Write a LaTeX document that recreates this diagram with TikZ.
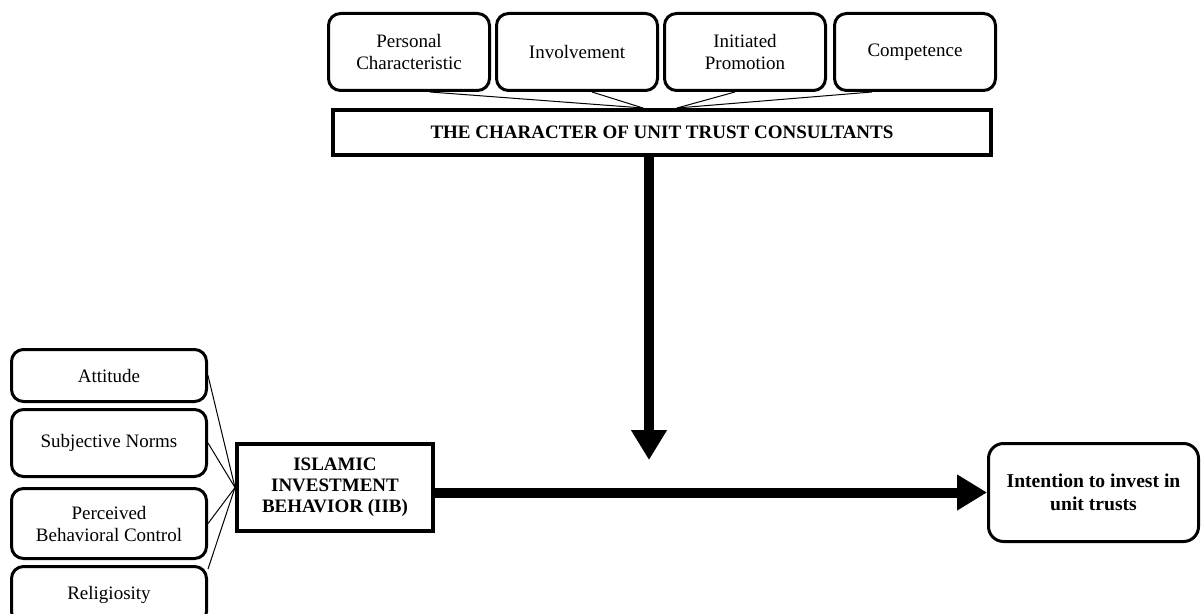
\documentclass[tikz,border=0pt]{standalone}
\usepackage{fontspec}
\setmainfont{Liberation Serif}
\usetikzlibrary{shapes.misc, arrows.meta, calc, positioning}

\begin{document}
\begin{tikzpicture}[x=0.5pt, y=-0.5pt, node distance=84pt, every node/.style={font=\fontsize{9.5}{11}\selectfont}]
%
% Coordinates are in pixels of the original figure, y pointing down.
%
\tikzstyle{factor} = [rectangle, rounded corners=6pt, minimum width=80.5pt, minimum height=38.5pt, text centered, draw=black, line width=1.5pt, align=center, inner sep=2pt]
\tikzstyle{construct} = [rectangle, draw=black, line width=2pt, text centered, align=center, inner sep=2pt, font=\bfseries\fontsize{9.5}{10.5}\selectfont]
\tikzstyle{outcome} = [factor, rounded corners=7.5pt, minimum width=105pt, minimum height=49pt, font=\bfseries\fontsize{9.8}{11.5}\selectfont]
\tikzstyle{link} = [line width=0.5pt]
\tikzstyle{arrow} = [line width=5pt, -{Triangle[length=15pt,width=17pt]}]
\useasboundingbox (0,0) rectangle (1202,614);
% Nodes
\node (personal) [factor] at (409,52) {Personal\\Characteristic};
\node (involve) [factor, right of=personal] {Involvement};
\node (promo) [factor, right of=involve] {Initiated\\Promotion};
\node (compet) [factor, right of=promo, xshift=1pt] {Competence};
\node (title) [construct, minimum width=329pt, minimum height=22.5pt] at (662,132.5) {THE CHARACTER OF UNIT TRUST CONSULTANTS};
\node (attitude) [factor, minimum width=97.5pt, minimum height=26pt] at (109,375.5) {Attitude};
\node (norms) [factor, minimum width=97.5pt, minimum height=33.5pt] at (109,443) {Subjective Norms};
\node (pbc) [factor, minimum width=97.5pt, minimum height=35pt] at (109,523.5) {Perceived\\Behavioral Control};
\node (relig) [factor, minimum width=97.5pt, minimum height=28.5pt] at (109,595) {Religiosity};
\node (iib) [construct, minimum width=98pt, minimum height=43.5pt] at (335,487.5) {ISLAMIC\\INVESTMENT\\BEHAVIOR (IIB)};
\node (intent) [outcome] at (1093.5,492.5) {Intention to invest in\\unit trusts};
\coordinate (meet) at (649,460);
% Thin links into the constructs
\draw [link] ($(personal.south)+(21,0)$) -- ($(title.north)+(-19,0)$);
\draw [link] ($(involve.south)+(15,0)$) -- ($(title.north)+(-19,0)$);
\draw [link] ($(promo.south)+(-10,0)$) -- ($(title.north)+(15,0)$);
\draw [link] ($(compet.south)+(-43,0)$) -- ($(title.north)+(15,0)$);
\draw [link] (attitude.east) -- (iib.west);
\draw [link] (norms.east) -- (iib.west);
\draw [link] (pbc.east) -- (iib.west);
\draw [link] ($(relig.north east)+(0,4)$) -- (iib.west);
% Arrows
\draw [arrow] (title.south -| meet) -- (meet);
\draw [arrow] (iib.east |- intent.west) -- (intent.west);
\end{tikzpicture}
\end{document}
